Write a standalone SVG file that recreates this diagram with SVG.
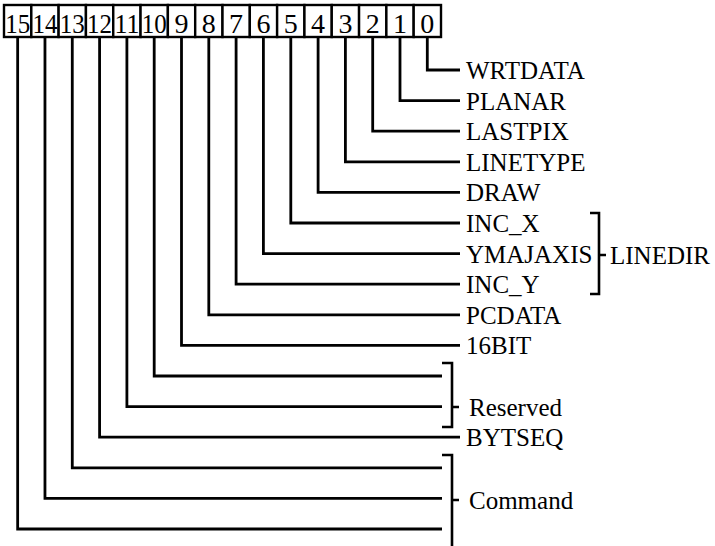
<svg xmlns="http://www.w3.org/2000/svg" width="715" height="546" viewBox="0 0 715 546">
<style>
.box{fill:#fff;stroke:#000;stroke-width:2.4}
.num{font-family:"Liberation Serif","Times New Roman",serif;font-size:28px;fill:#000;text-anchor:middle}
.lbl{font-family:"Liberation Serif","Times New Roman",serif;font-size:25px;fill:#000}
.wire{fill:none;stroke:#000;stroke-width:2.8}
.brk{fill:none;stroke:#000;stroke-width:2.6}
</style>
<rect width="715" height="546" fill="#fff"/>
<g id="register">
<g id="bit15"><rect class="box" x="4" y="5" width="27.31" height="32"/><text class="num" x="17.66" y="33" textLength="25" lengthAdjust="spacingAndGlyphs">15</text></g>
<g id="bit14"><rect class="box" x="31.31" y="5" width="27.31" height="32"/><text class="num" x="44.97" y="33" textLength="25" lengthAdjust="spacingAndGlyphs">14</text></g>
<g id="bit13"><rect class="box" x="58.62" y="5" width="27.31" height="32"/><text class="num" x="72.28" y="33" textLength="25" lengthAdjust="spacingAndGlyphs">13</text></g>
<g id="bit12"><rect class="box" x="85.94" y="5" width="27.31" height="32"/><text class="num" x="99.59" y="33" textLength="25" lengthAdjust="spacingAndGlyphs">12</text></g>
<g id="bit11"><rect class="box" x="113.25" y="5" width="27.31" height="32"/><text class="num" x="126.9" y="33" textLength="25" lengthAdjust="spacingAndGlyphs">11</text></g>
<g id="bit10"><rect class="box" x="140.56" y="5" width="27.31" height="32"/><text class="num" x="154.2" y="33" textLength="25" lengthAdjust="spacingAndGlyphs">10</text></g>
<g id="bit9"><rect class="box" x="167.87" y="5" width="27.31" height="32"/><text class="num" x="181.5" y="33">9</text></g>
<g id="bit8"><rect class="box" x="195.19" y="5" width="27.31" height="32"/><text class="num" x="208.8" y="33">8</text></g>
<g id="bit7"><rect class="box" x="222.5" y="5" width="27.31" height="32"/><text class="num" x="236.1" y="33">7</text></g>
<g id="bit6"><rect class="box" x="249.81" y="5" width="27.31" height="32"/><text class="num" x="263.4" y="33">6</text></g>
<g id="bit5"><rect class="box" x="277.12" y="5" width="27.31" height="32"/><text class="num" x="290.8" y="33">5</text></g>
<g id="bit4"><rect class="box" x="304.44" y="5" width="27.31" height="32"/><text class="num" x="318.1" y="33">4</text></g>
<g id="bit3"><rect class="box" x="331.75" y="5" width="27.31" height="32"/><text class="num" x="345.4" y="33">3</text></g>
<g id="bit2"><rect class="box" x="359.06" y="5" width="27.31" height="32"/><text class="num" x="372.7" y="33">2</text></g>
<g id="bit1"><rect class="box" x="386.37" y="5" width="27.31" height="32"/><text class="num" x="400" y="33">1</text></g>
<g id="bit0"><rect class="box" x="413.69" y="5" width="27.31" height="32"/><text class="num" x="427.3" y="33">0</text></g>
</g>
<g id="connectors">
<path class="wire" d="M427.3 37V70H460"/>
<path class="wire" d="M400 37V100.6H460"/>
<path class="wire" d="M372.7 37V131.2H460"/>
<path class="wire" d="M345.4 37V161.8H460"/>
<path class="wire" d="M318.1 37V192.4H460"/>
<path class="wire" d="M290.8 37V223H460"/>
<path class="wire" d="M263.4 37V253.6H460"/>
<path class="wire" d="M236.1 37V284.2H460"/>
<path class="wire" d="M208.8 37V314.8H460"/>
<path class="wire" d="M181.5 37V345.4H460"/>
<path class="wire" d="M154.2 37V376H442"/>
<path class="wire" d="M126.9 37V406.6H442"/>
<path class="wire" d="M99.59 37V437.2H460"/>
<path class="wire" d="M72.28 37V467.8H442"/>
<path class="wire" d="M44.97 37V498.4H442"/>
<path class="wire" d="M17.66 37V529H442"/>
</g>
<g id="brackets">
<path class="brk" d="M590 213H599V294H590M599 255H606"/>
<path class="brk" d="M442 363H452V427H442M452 407H459"/>
<path class="brk" d="M442 455H452V548M452 500H459"/>
</g>
<g id="label-WRTDATA"><text class="lbl" x="466" y="79">WRTDATA</text></g>
<g id="label-PLANAR"><text class="lbl" x="466" y="109.6">PLANAR</text></g>
<g id="label-LASTPIX"><text class="lbl" x="466" y="140.2">LASTPIX</text></g>
<g id="label-LINETYPE"><text class="lbl" x="466" y="170.8">LINETYPE</text></g>
<g id="label-DRAW"><text class="lbl" x="466" y="201.4">DRAW</text></g>
<g id="label-INC_X"><text class="lbl" x="466" y="232">INC_X</text></g>
<g id="label-YMAJAXIS"><text class="lbl" x="466" y="262.6">YMAJAXIS</text></g>
<g id="label-INC_Y"><text class="lbl" x="466" y="293.2">INC_Y</text></g>
<g id="label-PCDATA"><text class="lbl" x="466" y="323.8">PCDATA</text></g>
<g id="label-16BIT"><text class="lbl" x="466" y="354.4">16BIT</text></g>
<g id="label-BYTSEQ"><text class="lbl" x="466" y="446.2">BYTSEQ</text></g>
<g id="label-LINEDIR"><text class="lbl" x="610" y="264">LINEDIR</text></g>
<g id="label-Reserved"><text class="lbl" x="469" y="416">Reserved</text></g>
<g id="label-Command"><text class="lbl" x="469" y="509">Command</text></g>
</svg>
